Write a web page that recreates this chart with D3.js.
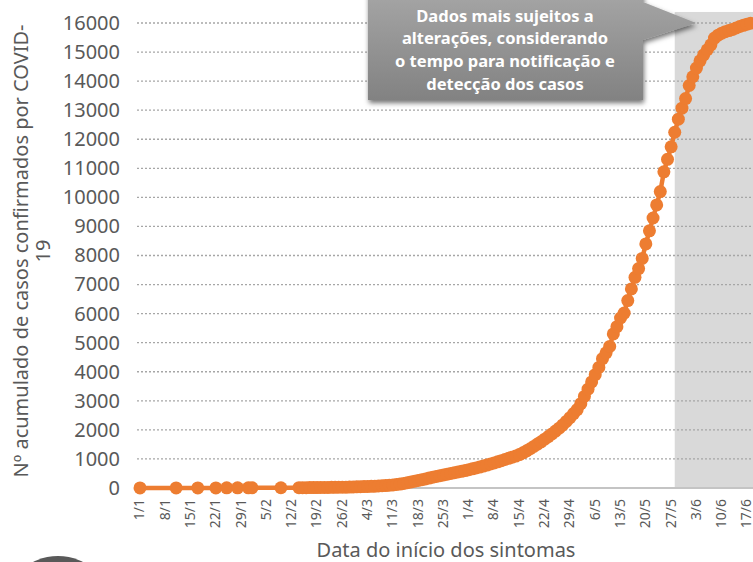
<!DOCTYPE html>
<html>
<head>
<meta charset="utf-8">
<script src="https://cdn.jsdelivr.net/npm/d3@7"></script>
<style>
  html, body { margin: 0; padding: 0; background: #ffffff; }
  svg { display: block; }
</style>
</head>
<body>
<svg id="chart" width="753" height="562"></svg>
<script>
// ---------------- DATA ----------------
const dates = [
  "1/1","11/1","17/1","22/1","25/1","28/1","31/1","1/2","9/2",
  "14/2","15/2","16/2","17/2","18/2","19/2","20/2","21/2","22/2","23/2","24/2","25/2","26/2","27/2","28/2","29/2",
  "1/3","2/3","3/3","4/3","5/3","6/3","7/3","8/3","9/3","10/3","11/3","12/3","13/3","14/3","15/3","16/3","17/3","18/3","19/3","20/3",
  "21/3","22/3","23/3","24/3","25/3","26/3","27/3","28/3","29/3","30/3","31/3",
  "1/4","2/4","3/4","4/4","5/4","6/4","7/4","8/4","9/4","10/4","11/4","12/4","13/4","14/4","15/4","16/4","17/4","18/4","19/4","20/4",
  "21/4","22/4","23/4","24/4","25/4","26/4","27/4","28/4","29/4","30/4",
  "1/5","2/5","3/5","4/5","5/5","6/5","7/5","8/5","9/5","10/5","11/5","12/5","13/5","14/5","15/5","16/5","17/5","18/5","19/5","20/5",
  "21/5","22/5","23/5","24/5","25/5","26/5","27/5","28/5","29/5","30/5","31/5",
  "1/6","2/6","3/6","4/6","5/6","6/6","7/6","8/6","9/6","10/6","11/6","12/6","13/6","14/6","15/6","16/6","17/6","18/6"
];
const cases = [
  1,2,3,4,5,6,7,8,9,
  10,11,12,13,14,16,17,19,20,22,24,26,28,30,33,36,
  40,44,48,53,58,64,70,77,85,94,104,120,135,155,180,210,235,260,285,310,
  340,370,400,425,450,475,500,525,550,575,600,
  630,660,690,720,755,790,825,860,900,940,980,1020,1060,1100,1150,1210,1280,1350,1430,1510,
  1590,1680,1770,1860,1960,2060,2170,2290,2420,2560,
  2700,2900,3150,3400,3650,3900,4150,4450,4650,4870,5300,5550,5850,6020,6450,6850,7250,7550,7900,8400,
  8850,9290,9740,10200,10880,11310,11740,12240,12690,13070,13400,
  13850,14150,14450,14700,14900,15080,15250,15480,15580,15650,15700,15740,15780,15830,15880,15920,15960,15990
];
const xTickLabels = ["1/1","8/1","15/1","22/1","29/1","5/2","12/2","19/2","26/2","4/3","11/3","18/3","25/3",
  "1/4","8/4","15/4","22/4","29/4","6/5","13/5","20/5","27/5","3/6","10/6","17/6"];
const yTicks = [0,1000,2000,3000,4000,5000,6000,7000,8000,9000,10000,11000,12000,13000,14000,15000,16000];
const shadeStart = "28/5";
const shadeEnd = "20/6";
const shadeTop = 16380;
const calloutLines = ["Dados mais sujeitos a","alterações, considerando","o tempo para notificação e","detecção dos casos"];
const yTitleLines = ["Nº acumulado de casos confirmados por COVID-","19"];
const xTitle = "Data do início dos sintomas";

// ---------------- CHART ----------------
const parse = s => { const [d, m] = s.split("/").map(Number); return new Date(2020, m - 1, d); };
const data = dates.map((d, i) => ({ date: parse(d), value: cases[i] }));

const svg = d3.select("#chart");
const font = "'Noto Sans', 'Open Sans', sans-serif";
const textColor = "#595959";
const orange = "#ED7D31";

const x = d3.scaleTime().domain([parse("1/1"), parse("17/6")]).range([140, 747]);
const y = d3.scaleLinear().domain([0, 16000]).range([488, 23]);

const defs = svg.append("defs");
const grad = defs.append("linearGradient").attr("id", "boxGrad").attr("x1", 0).attr("y1", 0).attr("x2", 0).attr("y2", 1);
grad.append("stop").attr("offset", "0%").attr("stop-color", "#a6a6a6");
grad.append("stop").attr("offset", "100%").attr("stop-color", "#828282");
const filt = defs.append("filter").attr("id", "shadow").attr("x", "-20%").attr("y", "-20%").attr("width", "140%").attr("height", "150%");
filt.append("feDropShadow").attr("dx", 1).attr("dy", 3).attr("stdDeviation", 2.5).attr("flood-color", "#000").attr("flood-opacity", 0.55);

// shaded region
svg.append("rect")
  .attr("x", x(parse(shadeStart)))
  .attr("y", y(shadeTop))
  .attr("width", x(parse(shadeEnd)) - x(parse(shadeStart)))
  .attr("height", y(0) - y(shadeTop))
  .attr("fill", "#d9d9d9");

// gridlines
svg.append("g").selectAll("line")
  .data(yTicks.filter(v => v > 0))
  .join("line")
  .attr("x1", 137).attr("x2", 753)
  .attr("y1", d => y(d)).attr("y2", d => y(d))
  .attr("stroke", "#a6a6a6")
  .attr("stroke-width", 1.3)
  .attr("stroke-dasharray", "2,2");

// baseline
svg.append("line")
  .attr("x1", 137).attr("x2", 753)
  .attr("y1", y(0)).attr("y2", y(0))
  .attr("stroke", "#c4c4c4").attr("stroke-width", 2);

// y axis
const yAxis = svg.append("g")
  .attr("transform", "translate(140,0)")
  .call(d3.axisLeft(y).tickValues(yTicks).tickFormat(d3.format("d")).tickSize(0).tickPadding(20));
yAxis.select(".domain").remove();
yAxis.selectAll("text")
  .attr("font-family", font).attr("font-size", 20).attr("fill", textColor);

// x axis
const xAxis = svg.append("g")
  .attr("transform", `translate(0,${y(0)})`)
  .call(d3.axisBottom(x).tickValues(xTickLabels.map(parse)).tickFormat(d3.timeFormat("%-d/%-m")).tickSize(0));
xAxis.select(".domain").remove();
xAxis.selectAll("text")
  .attr("transform", "rotate(-90)")
  .attr("x", -11).attr("y", -1).attr("dy", "0.35em")
  .style("text-anchor", "end")
  .attr("font-family", font).attr("font-size", 14).attr("fill", textColor);

// series
svg.append("path")
  .datum(data)
  .attr("fill", "none")
  .attr("stroke", orange)
  .attr("stroke-width", 4.5)
  .attr("stroke-linejoin", "round")
  .attr("d", d3.line().x(d => x(d.date)).y(d => y(d.value)));
svg.append("g").selectAll("circle")
  .data(data)
  .join("circle")
  .attr("cx", d => x(d.date))
  .attr("cy", d => y(d.value))
  .attr("r", 6.5)
  .attr("fill", orange);

// callout
const cg = svg.append("g");
cg.append("path")
  .attr("d", "M368,-10 H643 V2 L696,23 L643,40 V100 H368 Z")
  .attr("fill", "url(#boxGrad)")
  .attr("filter", "url(#shadow)");
cg.append("text")
  .attr("font-family", font).attr("font-size", 16.5).attr("font-weight", "bold")
  .attr("fill", "#ffffff").attr("text-anchor", "middle")
  .selectAll("tspan")
  .data(calloutLines)
  .join("tspan")
  .attr("x", 505)
  .attr("y", (d, i) => 21.5 + i * 22.8)
  .text(d => d);

// y title
svg.append("text")
  .attr("transform", "translate(28,251) rotate(-90)")
  .attr("font-family", font).attr("font-size", 20).attr("fill", textColor)
  .attr("text-anchor", "middle")
  .selectAll("tspan")
  .data(yTitleLines)
  .join("tspan")
  .attr("x", 0)
  .attr("y", (d, i) => i * 22)
  .text(d => d);

// x title
svg.append("text")
  .attr("x", 446).attr("y", 557)
  .attr("font-family", font).attr("font-size", 20).attr("fill", textColor)
  .attr("text-anchor", "middle")
  .text(xTitle);

// decorative circle bottom-left
svg.append("circle")
  .attr("cx", 58).attr("cy", 611).attr("r", 55)
  .attr("fill", "#595959");
</script>
</body>
</html>
